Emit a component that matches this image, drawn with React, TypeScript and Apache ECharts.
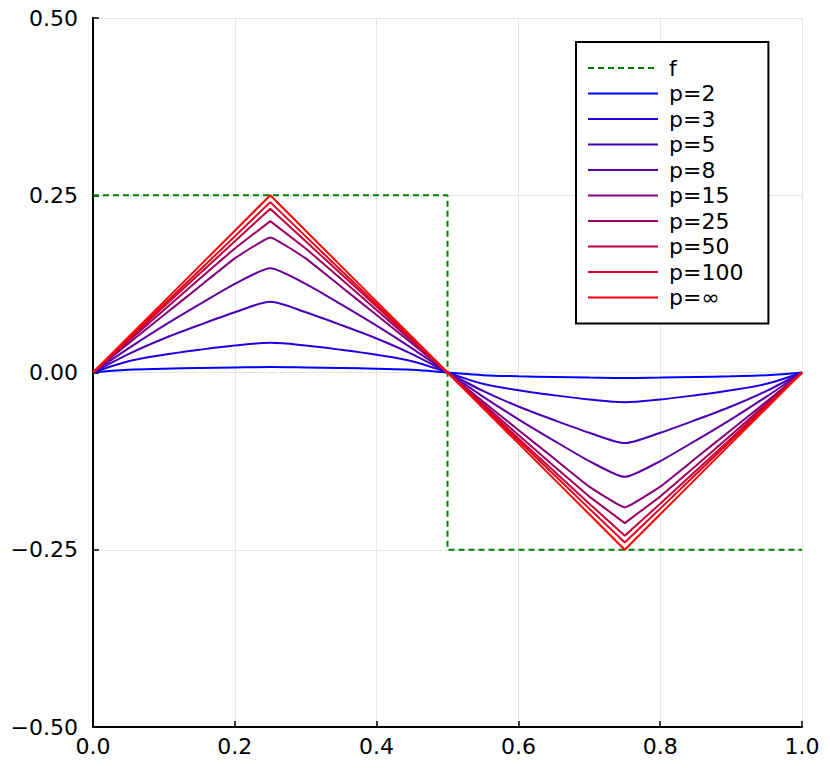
import React, { useEffect, useRef } from 'react';
import * as echarts from 'echarts';

const xs = [0, 0.05, 0.1, 0.15, 0.2, 0.25, 0.3, 0.35, 0.4, 0.45, 0.5, 0.55, 0.6, 0.65, 0.7, 0.75, 0.8, 0.85, 0.9, 0.95, 1];

const fX = [0, 0.5, 0.5, 1];
const fY = [0.25, 0.25, -0.25, -0.25];

const p2 = [0, 0.0038, 0.0053, 0.0063, 0.0071, 0.0076, 0.0071, 0.0063, 0.0053, 0.0038, 0, -0.0038, -0.0053, -0.0063, -0.0072, -0.0079, -0.0072, -0.0063, -0.0053, -0.0038, 0];
const p3 = [0, 0.016, 0.025, 0.032, 0.038, 0.0418, 0.038, 0.032, 0.025, 0.016, 0, -0.016, -0.025, -0.032, -0.038, -0.0418, -0.038, -0.032, -0.025, -0.016, 0];
const p5 = [0, 0.026, 0.048, 0.067, 0.085, 0.0997, 0.085, 0.067, 0.048, 0.026, 0, -0.026, -0.048, -0.067, -0.085, -0.0996, -0.085, -0.067, -0.048, -0.026, 0];
const p8 = [0, 0.034, 0.066, 0.096, 0.125, 0.147, 0.125, 0.096, 0.066, 0.034, 0, -0.034, -0.066, -0.096, -0.125, -0.1472, -0.125, -0.096, -0.066, -0.034, 0];
const p15 = [0, 0.041, 0.081, 0.121, 0.161, 0.1905, 0.161, 0.121, 0.081, 0.041, 0, -0.041, -0.081, -0.121, -0.161, -0.1904, -0.161, -0.121, -0.081, -0.041, 0];
const p25 = [0, 0.044, 0.088, 0.132, 0.175, 0.2135, 0.175, 0.132, 0.088, 0.044, 0, -0.044, -0.088, -0.132, -0.175, -0.2124, -0.175, -0.132, -0.088, -0.044, 0];
const p50 = [0, 0.046, 0.093, 0.139, 0.185, 0.231, 0.185, 0.139, 0.093, 0.046, 0, -0.046, -0.093, -0.139, -0.185, -0.2303, -0.185, -0.139, -0.093, -0.046, 0];
const p100 = [0, 0.048, 0.096, 0.144, 0.192, 0.2403, 0.192, 0.144, 0.096, 0.048, 0, -0.048, -0.096, -0.144, -0.192, -0.2398, -0.192, -0.144, -0.096, -0.048, 0];
const pInf = [0, 0.05, 0.1, 0.15, 0.2, 0.25, 0.2, 0.15, 0.1, 0.05, 0, -0.05, -0.1, -0.15, -0.2, -0.25, -0.2, -0.15, -0.1, -0.05, 0];

const curveNames = ['p=2', 'p=3', 'p=5', 'p=8', 'p=15', 'p=25', 'p=50', 'p=100', 'p=∞'];
const curveValues = [p2, p3, p5, p8, p15, p25, p50, p100, pInf];
const curveColors = ['#0000ff', '#1c00e3', '#4600b9', '#5f00a0', '#85007a', '#a0005f', '#c5003a', '#e0001f', '#ff0000'];
const curveSmooth = [0.4, 0.35, 0.25, 0.2, 0.1, 0, 0, 0, 0];

const FONT = 'DejaVu Sans';

export default function App() {
  const ref = useRef<HTMLDivElement>(null);
  useEffect(() => {
    if (!ref.current) return;
    const chart = echarts.init(ref.current, null, { renderer: 'svg' });
    const axisCommon = {
      type: 'value',
      axisLine: { show: true, onZero: false, lineStyle: { color: '#000', width: 2 } },
      axisTick: { show: true, inside: true, length: 6, lineStyle: { color: '#000', width: 1.5 } },
      splitLine: { show: true, lineStyle: { color: '#e6e6e6', width: 1 } },
    };
    const series: any[] = [
      {
        name: 'f',
        type: 'line',
        symbol: 'none',
        data: fX.map((x, i) => [x, fY[i]]),
        lineStyle: { color: '#008000', width: 2, type: [6, 4] },
        itemStyle: { color: '#008000' },
        emphasis: { disabled: true },
      },
    ];
    curveNames.forEach((name, k) => {
      series.push({
        name,
        type: 'line',
        symbol: 'none',
        smooth: curveSmooth[k],
        data: xs.map((x, i) => [x, curveValues[k][i]]),
        lineStyle: { color: curveColors[k], width: 2 },
        itemStyle: { color: curveColors[k] },
        emphasis: { disabled: true },
      });
    });
    chart.setOption({
      animation: false,
      backgroundColor: '#fff',
      grid: { left: 93, right: 28, top: 18, bottom: 42 },
      xAxis: {
        ...axisCommon,
        min: 0,
        max: 1,
        interval: 0.2,
        axisLabel: {
          fontSize: 22,
          fontFamily: FONT,
          color: '#000',
          margin: 8,
          formatter: (v: number) => v.toFixed(1),
        },
      },
      yAxis: {
        ...axisCommon,
        min: -0.5,
        max: 0.5,
        interval: 0.25,
        axisLabel: {
          fontSize: 22,
          fontFamily: FONT,
          color: '#000',
          margin: 15,
          formatter: (v: number) => (v < 0 ? '\u2212' : '') + Math.abs(v).toFixed(2),
        },
      },
      legend: {
        data: ['f', ...curveNames],
        orient: 'vertical',
        left: 576,
        top: 42,
        padding: [15, 25, 15, 11],
        itemWidth: 70,
        itemHeight: 2,
        itemGap: 3.5,
        borderColor: '#000',
        borderWidth: 2,
        backgroundColor: '#fff',
        selectedMode: false,
        itemStyle: { opacity: 0 },
        textStyle: { fontSize: 22, fontFamily: FONT, color: '#000', padding: [0, 0, 0, 6] },
      },
      series,
    });
    return () => chart.dispose();
  }, []);
  return <div ref={ref} style={{ position: 'fixed', left: 0, top: 0, width: 830, height: 769 }} />;
}
